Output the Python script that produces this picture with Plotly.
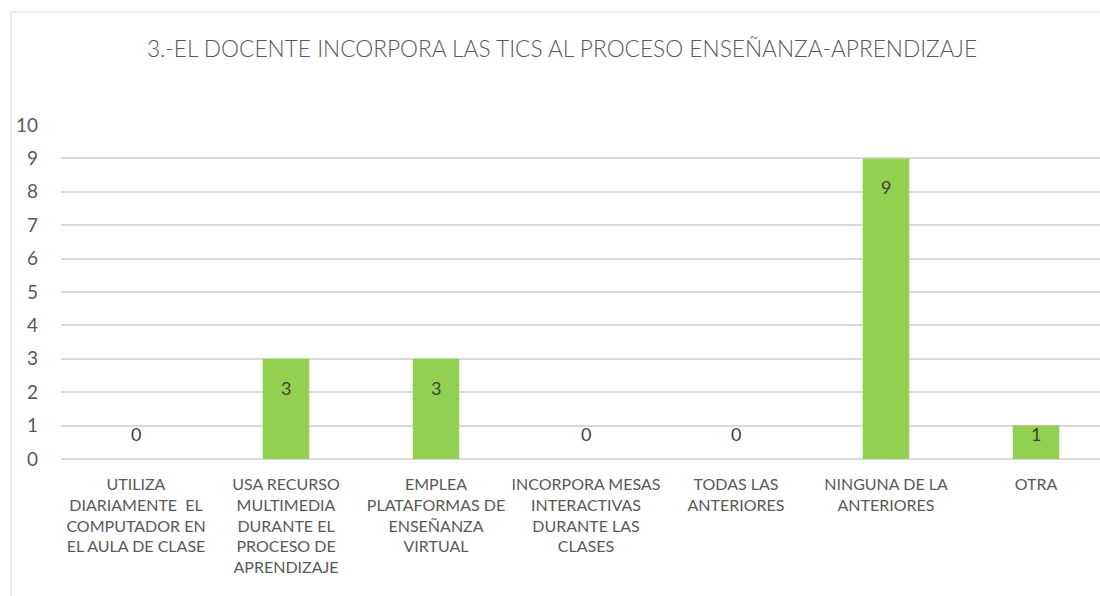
import plotly.graph_objects as go

categories = [
    "UTILIZA<br>DIARIAMENTE  EL<br>COMPUTADOR EN<br>EL AULA DE CLASE",
    "USA RECURSO<br>MULTIMEDIA<br>DURANTE EL<br>PROCESO DE<br>APRENDIZAJE",
    "EMPLEA<br>PLATAFORMAS DE<br>ENSEÑANZA<br>VIRTUAL",
    "INCORPORA MESAS<br>INTERACTIVAS<br>DURANTE LAS<br>CLASES",
    "TODAS LAS<br>ANTERIORES",
    "NINGUNA DE LA<br>ANTERIORES",
    "OTRA",
]
values = [0, 3, 3, 0, 0, 9, 1]
title_text = "3.-EL DOCENTE INCORPORA LAS TICS AL PROCESO ENSEÑANZA-APRENDIZAJE"

FONT = "Lato"
GREY = "#595959"

fig = go.Figure()
fig.add_trace(go.Bar(
    x=list(range(len(categories))), y=values,
    marker=dict(color="#92D050", line=dict(width=0)),
    width=0.31, hoverinfo="skip",
))

def label_shift(v):
    if v == 0:
        return 25
    if v == 1:
        return -8
    return -29

for i, v in enumerate(values):
    fig.add_annotation(
        x=i, y=v, text=str(v), showarrow=False, xref="x", yref="y",
        yanchor="middle", yshift=label_shift(v),
        font=dict(family=FONT, size=18, color="#404040"),
    )

L, R, T, B = 61, 0, 125, 137
W, H = 1100, 596
pw = W - L - R
ph = H - T - B

# chart frame
fig.add_shape(type="rect", xref="paper", yref="paper",
              x0=(11 - L) / pw, x1=1.2, y0=-0.6, y1=(H - B - 12) / ph,
              line=dict(color="#D9D9D9", width=1), fillcolor="rgba(0,0,0,0)",
              layer="below")

fig.update_layout(
    width=W, height=H,
    margin=dict(l=L, r=R, t=T, b=B, pad=0),
    paper_bgcolor="white", plot_bgcolor="white",
    showlegend=False,
    title=dict(text=title_text, x=562 / W, xref="container", xanchor="center",
               y=1 - 49 / H, yref="container", yanchor="middle",
               font=dict(family=FONT, size=22.7, color=GREY, weight=300)),
    xaxis=dict(
        tickmode="array", tickvals=list(range(len(categories))), ticktext=categories,
        range=[-0.5, -0.5 + pw / 150], showgrid=False, zeroline=False,
        showline=False, ticks="", ticklabelstandoff=14,
        tickfont=dict(family=FONT, size=16, color=GREY), tickangle=0,
    ),
    yaxis=dict(
        range=[0, 10], dtick=1, showgrid=True, gridcolor="#D9D9D9", gridwidth=1.5,
        zeroline=True, zerolinecolor="#D9D9D9", zerolinewidth=1.5,
        showline=False, ticks="", ticklabelstandoff=22,
        tickfont=dict(family=FONT, size=19, color=GREY),
    ),
    font=dict(family=FONT, color=GREY),
)

fig.write_html(
    "out.html",
    config={"displayModeBar": False},
    post_script="document.body.style.margin='0';document.body.style.overflow='hidden';",
)
